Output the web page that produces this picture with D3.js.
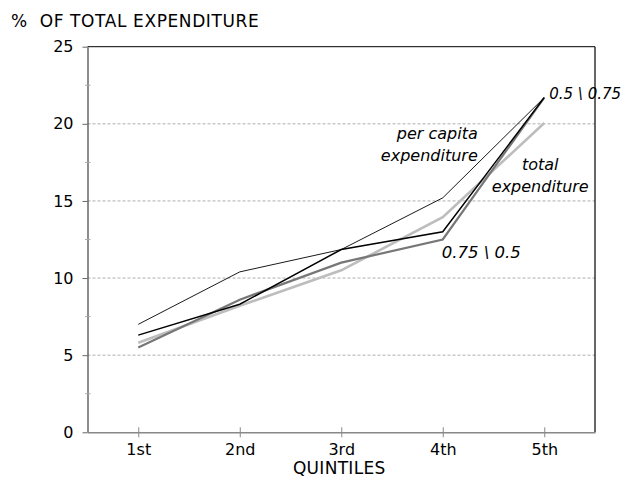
<!DOCTYPE html>
<html>
<head>
<meta charset="utf-8">
<script src="https://cdn.jsdelivr.net/npm/d3@7"></script>
<style>
  body { margin: 0; background: #fff; }
  text { font-family: "DejaVu Sans", Arial, sans-serif; }
</style>
</head>
<body>
<div id="chart"></div>
<script>
var svgWidth = 625;
var svgHeight = 480;

var leftMargin = 87.5;
var rightMargin = 30;
var topMargin = 46.7;
var bottomMargin = 47.7;

var chartWidth = svgWidth - leftMargin - rightMargin;
var chartHeight = svgHeight - topMargin - bottomMargin;

// data
var quintiles = ['1st', '2nd', '3rd', '4th', '5th'];
var perCapita = [7.0, 10.4, 11.85, 15.2, 21.7];
var halfThreeQ = [6.3, 8.3, 11.85, 13.0, 21.7];
var threeQHalf = [5.5, 8.6, 11.0, 12.5, 21.7];
var totalExp = [5.8, 8.2, 10.5, 13.95, 20.05];
var yTicks = [0, 5, 10, 15, 20, 25];
var yMinor = [2.5, 7.5, 12.5, 17.5, 22.5];

var series = [
    {name: 'total', values: totalExp, color: '#bdbdbd', width: 2.6},
    {name: '0.75 \\ 0.5', values: threeQHalf, color: '#777777', width: 2.2},
    {name: '0.5 \\ 0.75', values: halfThreeQ, color: '#000000', width: 1.5},
    {name: 'per capita', values: perCapita, color: '#000000', width: 0.9}
];

var svg = d3.select('#chart')
    .append('svg')
    .attr('width', svgWidth)
    .attr('height', svgHeight);

var chart = svg.append('g')
    .attr('transform', `translate(${leftMargin}, ${topMargin})`);

var xScale = d3.scalePoint()
    .domain(quintiles)
    .range([0, chartWidth])
    .padding(0.5);
var yScale = d3.scaleLinear()
    .domain([0, 25])
    .range([chartHeight, 0]);

// gridlines
chart.append('g')
    .selectAll('line')
    .data(yTicks.filter(d => d > 0 && d < 25))
    .enter()
    .append('line')
    .attr('x1', 0)
    .attr('x2', chartWidth)
    .attr('y1', d => yScale(d))
    .attr('y2', d => yScale(d))
    .attr('stroke', '#999')
    .attr('stroke-width', 0.8)
    .attr('stroke-dasharray', '3,2');

// top and right frame
chart.append('line')
    .attr('x1', 0).attr('x2', chartWidth)
    .attr('y1', yScale(25)).attr('y2', yScale(25))
    .attr('stroke', '#000').attr('stroke-width', 1);
chart.append('line')
    .attr('x1', chartWidth).attr('x2', chartWidth)
    .attr('y1', yScale(25)).attr('y2', chartHeight)
    .attr('stroke', '#000').attr('stroke-width', 1.2);

// y axis
var yAxis = d3.axisLeft(yScale)
    .tickValues(yTicks)
    .tickSize(5)
    .tickPadding(9)
    .tickSizeOuter(0);
var yG = chart.append('g').call(yAxis);
yG.select('.domain').attr('stroke', '#666').attr('stroke-width', 1.5);
yG.selectAll('.tick line').attr('stroke', '#666');
yG.selectAll('.tick text')
    .attr('font-size', 16)
    .attr('fill', '#000')
    .style('font-family', '"DejaVu Sans", Arial, sans-serif');

chart.append('g')
    .selectAll('line')
    .data(yMinor)
    .enter()
    .append('line')
    .attr('x1', -2.5)
    .attr('x2', 3)
    .attr('y1', d => yScale(d))
    .attr('y2', d => yScale(d))
    .attr('stroke', '#aaa');

// x axis
var xAxis = d3.axisBottom(xScale)
    .tickSize(0)
    .tickPadding(11)
    .tickSizeOuter(0);
var xG = chart.append('g')
    .attr('transform', `translate(0, ${chartHeight})`)
    .call(xAxis);
xG.select('.domain').attr('stroke', '#888').attr('stroke-width', 1.5);
xG.selectAll('.tick text')
    .attr('font-size', 16)
    .attr('fill', '#000')
    .style('font-family', '"DejaVu Sans", Arial, sans-serif');
xG.selectAll('.tick')
    .append('line')
    .attr('y1', -5)
    .attr('y2', 5)
    .attr('stroke', '#888');

// axis titles
svg.append('text')
    .attr('x', 11)
    .attr('y', 27)
    .attr('font-size', 17)
    .attr('letter-spacing', 0.6)
    .attr('xml:space', 'preserve')
    .text('%  OF TOTAL EXPENDITURE');

chart.append('text')
    .attr('x', xScale('3rd') - 2)
    .attr('y', chartHeight + 42)
    .attr('text-anchor', 'middle')
    .attr('font-size', 17)
    .attr('letter-spacing', 0.3)
    .text('QUINTILES');

// lines
var line = d3.line()
    .x((d, i) => xScale(quintiles[i]))
    .y(d => yScale(d));

chart.append('g')
    .selectAll('path')
    .data(series)
    .enter()
    .append('path')
    .attr('d', d => line(d.values))
    .attr('fill', 'none')
    .attr('stroke', d => d.color)
    .attr('stroke-width', d => d.width)
    .attr('stroke-linejoin', 'miter');

// line labels
var labels = [
    {lines: ['per capita', 'expenditure'], x: xScale('4th') + 35, y: yScale(19.0), anchor: 'end', size: 16},
    {lines: ['total', 'expenditure'], x: xScale('5th') - 4, y: yScale(17.0), anchor: 'middle', size: 16},
    {lines: ['0.5 \\ 0.75'], x: xScale('5th') + 5, y: yScale(21.6), anchor: 'start', size: 15},
    {lines: ['0.75 \\ 0.5'], x: xScale('4th') - 1, y: yScale(11.3), anchor: 'start', size: 16.5}
];

labels.forEach(function(l) {
    var t = chart.append('text')
        .attr('x', l.x)
        .attr('y', l.y)
        .attr('text-anchor', l.anchor)
        .attr('font-size', l.size)
        .attr('font-style', 'italic');
    l.lines.forEach(function(s, i) {
        t.append('tspan')
            .attr('x', l.x)
            .attr('dy', i === 0 ? 0 : 22)
            .text(s);
    });
});
</script>
</body>
</html>
